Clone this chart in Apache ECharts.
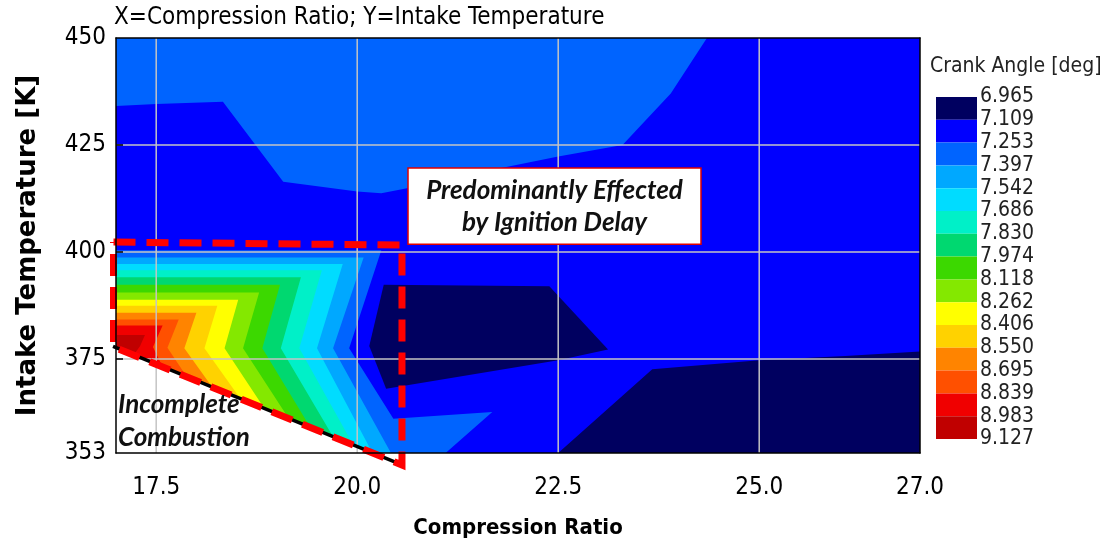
<!DOCTYPE html>
<html>
<head>
<meta charset="utf-8">
<script src="https://cdn.jsdelivr.net/npm/echarts@6/dist/echarts.min.js"></script>
<style>
  html, body { margin: 0; padding: 0; background: #ffffff; }
  #chart { width: 1108px; height: 550px; }
</style>
</head>
<body>
<div id="chart"></div>
<script>
// Contour levels of crank angle [deg] and the fill colour of each band between them
const levels = [6.965, 7.109, 7.253, 7.397, 7.542, 7.686, 7.830, 7.974, 8.118, 8.262, 8.406, 8.550, 8.695, 8.839, 8.983, 9.127];
const bandColors = ['#000060', '#0000ff', '#0064ff', '#00a8ff', '#00dcff', '#00f0c8', '#00d870', '#3cd800',
                    '#84e800', '#ffff00', '#ffd200', '#ff8400', '#ff5000', '#f00000', '#c00000'];

// Axis ticks (compression ratio, intake temperature [K])
const xTicks = [17.5, 20.0, 22.5, 25.0, 27.0];
const yTicks = [353, 375, 400, 425, 450];
const xGridLines = [17.5, 20.0, 22.5, 25.0];
const yGridLines = [375, 400, 425];

// Filled contour regions, vertices as [compression ratio, temperature]
const plotArea   = [[17, 353], [27, 353], [27, 450], [17, 450]];
const upperBand  = [[17, 450], [24.35, 450], [23.9, 437], [23.3, 425], [22.5, 422.3], [21.5, 418.5], [20.7, 415.2],
                    [20.3, 413.7], [20.0, 414.1], [19.08, 416.4], [18.33, 435.1], [17.5, 434.6], [17, 434.1]];
const midNavy    = [[20.33, 392.3], [22.39, 392.0], [23.12, 377.2], [22.5, 374.7], [20.36, 368.0], [20.15, 378.0]];
const lowNavy    = [[22.5, 353], [23.67, 372.6], [25.0, 374.7], [26.07, 375.7], [27, 376.7], [27, 353]];

// Nested bands of the low-CR / low-temperature wedge (band 2 .. band 14)
const wedgeTopT     = [400.4, 398.7, 397.2, 395.7, 394.1, 392.3, 390.5, 388.8, 387.4, 385.8, 384.2, 382.8, 380.6];
const wedgeCornerX  = [20.30, 20.08, 19.82, 19.56, 19.30, 19.04, 18.78, 18.52, 18.26, 18.00, 17.78, 17.58, 17.36];
const wedgeVertexX  = [19.90, 19.70, 19.50, 19.28, 19.05, 18.82, 18.58, 18.35, 18.10, 17.85, 17.64, 17.46, 17.30];
const wedgeVertexT  = [377.5, 377.5, 377.5, 377.5, 377.5, 377.5, 377.5, 377.5, 377.5, 377.5, 377.6, 377.8, 378.0];
const wedgeLowerArm = [
  [[20.45, 361.0], [21.68, 362.6], [21.10, 353.0]],
  [[20.42, 353.0]],
  [[20.19, 353.0]],
  [[19.95, 354.9]],
  [[19.70, 356.8]],
  [[19.42, 358.9]],
  [[19.15, 361.0]],
  [[18.85, 363.3]],
  [[18.55, 365.6]],
  [[18.20, 368.3]],
  [[17.88, 370.8]],
  [[17.58, 373.1]],
  [[17.22, 375.9]]
];

// Region without complete combustion, and the annotation outlines
const noCombustion = [[17, 377.6], [20.19, 353], [17, 353]];
const limitLine    = [[16.963, 377.9], [20.557, 350.2]];
const focusBox     = [[16.969, 402.3], [20.557, 401.6], [20.557, 350.2], [16.969, 377.8], [16.969, 402.3]];
const noteBox      = [[20.632, 419.6], [24.276, 401.8]];
const noteAnchor   = [17.0, 360.4];

const regions = [
  { band: 1, pts: plotArea },
  { band: 2, pts: upperBand },
  { band: 0, pts: midNavy },
  { band: 0, pts: lowNavy }
];
wedgeTopT.forEach((t, i) => {
  regions.push({
    band: i + 2,
    pts: [[17, t], [wedgeCornerX[i], t], [wedgeVertexX[i], wedgeVertexT[i]], ...wedgeLowerArm[i], [17, 353]]
  });
});
regions.push({ fill: '#ffffff', pts: noCombustion });

const NARROW = "'DejaVu Sans Condensed', 'Liberation Sans Narrow', sans-serif";
const NOTE_FONT = "Lato, 'Open Sans', sans-serif";

const chart = echarts.init(document.getElementById('chart'), null, { renderer: 'canvas' });

const frameAxis = { show: true, lineStyle: { color: '#000000', width: 1.5 } };

chart.setOption({
  animation: false,
  backgroundColor: '#ffffff',
  title: [
    {
      text: 'X=Compression Ratio; Y=Intake Temperature',
      left: 114, top: 6, padding: 0,
      textStyle: { fontFamily: NARROW, fontSize: 24, fontWeight: 'normal', color: '#000000' }
    },
    {
      text: 'Crank Angle [deg]',
      left: 930, top: 56, padding: 0,
      textStyle: { fontFamily: NARROW, fontSize: 21, fontWeight: 'normal', color: '#222222' }
    }
  ],
  grid: [
    { left: 116, right: 188, top: 38, bottom: 97 },
    { left: 936, top: 97, width: 41, height: 342 }
  ],
  xAxis: [
    {
      gridIndex: 0, type: 'value', min: 17, max: 27, position: 'bottom', z: 10,
      axisLine: frameAxis,
      axisTick: { show: false },
      splitLine: { show: false },
      axisLabel: {
        customValues: xTicks, margin: 23,
        formatter: v => v.toFixed(1),
        fontFamily: NARROW, fontSize: 24, color: '#000000'
      },
      name: 'Compression Ratio', nameLocation: 'middle', nameGap: 64,
      nameTextStyle: { fontFamily: NARROW, fontSize: 22, fontWeight: 'bold', color: '#000000' }
    },
    {
      gridIndex: 0, type: 'value', min: 17, max: 27, position: 'top', z: 10,
      axisLine: frameAxis, axisTick: { show: false }, axisLabel: { show: false }, splitLine: { show: false }
    },
    {
      gridIndex: 1, type: 'value', min: 0, max: 1, show: false
    }
  ],
  yAxis: [
    {
      gridIndex: 0, type: 'value', min: 353, max: 450, position: 'left', z: 10,
      axisLine: frameAxis,
      axisTick: { show: true, inside: true, length: 7, customValues: yGridLines, lineStyle: { color: '#000000', width: 1.5 } },
      splitLine: { show: false },
      axisLabel: {
        customValues: yTicks, margin: 10,
        fontFamily: NARROW, fontSize: 24, color: '#000000'
      },
      name: 'Intake Temperature [K]', nameLocation: 'middle', nameGap: 75,
      nameTextStyle: { fontFamily: "'DejaVu Sans', sans-serif", fontSize: 26, fontWeight: 'bold', color: '#000000' }
    },
    {
      gridIndex: 0, type: 'value', min: 353, max: 450, position: 'right', z: 10,
      axisLine: frameAxis, axisTick: { show: false }, axisLabel: { show: false }, splitLine: { show: false }
    },
    {
      gridIndex: 1, type: 'value', min: 0, max: 15, interval: 1, inverse: true, position: 'right',
      axisLine: { show: false }, axisTick: { show: false }, splitLine: { show: false },
      axisLabel: {
        margin: 3, showMinLabel: true, showMaxLabel: true, hideOverlap: false,
        formatter: v => levels[v].toFixed(3),
        fontFamily: NARROW, fontSize: 21, color: '#222222'
      }
    }
  ],
  series: [
    {
      // filled contour bands
      type: 'custom', name: 'Crank Angle', xAxisIndex: 0, yAxisIndex: 0, z: 2, clip: true,
      data: regions.map(r => r.pts[0]),
      renderItem: (params, api) => {
        const r = regions[params.dataIndex];
        return {
          type: 'polygon',
          shape: { points: r.pts.map(p => api.coord(p)) },
          style: { fill: r.fill || bandColors[r.band], stroke: null }
        };
      }
    },
    {
      // grid lines drawn over the contour fill
      type: 'custom', name: 'grid', xAxisIndex: 0, yAxisIndex: 0, z: 3, silent: true,
      data: xGridLines.map(v => [v, 353]).concat(yGridLines.map(v => [17, v])),
      renderItem: (params, api) => {
        const i = params.dataIndex;
        let a, b;
        if (i < xGridLines.length) {
          a = api.coord([xGridLines[i], 353]); b = api.coord([xGridLines[i], 450]);
        } else {
          const t = yGridLines[i - xGridLines.length];
          a = api.coord([17, t]); b = api.coord([27, t]);
        }
        return {
          type: 'line',
          shape: { x1: a[0], y1: a[1], x2: b[0], y2: b[1] },
          style: { stroke: '#c4c4c4', lineWidth: 1.5 }
        };
      }
    },
    {
      // annotations: combustion limit and the ignition-delay note
      type: 'custom', name: 'notes', xAxisIndex: 0, yAxisIndex: 0, z: 5, clip: false, silent: true,
      data: [noteAnchor],
      renderItem: (params, api) => {
        const l0 = api.coord(limitLine[0]), l1 = api.coord(limitLine[1]);
        const box = focusBox.map(p => api.coord(p));
        const n0 = api.coord(noteBox[0]), n1 = api.coord(noteBox[1]);
        const na = api.coord(noteAnchor);
        return {
          type: 'group',
          children: [
            {
              type: 'line',
              shape: { x1: l0[0], y1: l0[1], x2: l1[0], y2: l1[1] },
              style: { stroke: '#000000', lineWidth: 3.5 }
            },
            {
              type: 'polyline',
              shape: { points: box },
              style: { stroke: '#ff0000', lineWidth: 7, lineDash: [22, 11], fill: null }
            },
            {
              type: 'rect',
              shape: { x: n0[0], y: n0[1], width: n1[0] - n0[0], height: n1[1] - n0[1] },
              style: { fill: '#ffffff', stroke: '#e00000', lineWidth: 1.5 }
            },
            {
              type: 'text',
              x: (n0[0] + n1[0]) / 2, y: (n0[1] + n1[1]) / 2,
              style: {
                text: 'Predominantly Effected\nby Ignition Delay',
                align: 'center', verticalAlign: 'middle', lineHeight: 32,
                fontFamily: NOTE_FONT, fontSize: 26, fontWeight: 'bold', fontStyle: 'italic', fill: '#111111'
              }
            },
            {
              type: 'text',
              x: na[0] + 2, y: na[1],
              style: {
                text: 'Incomplete\nCombustion',
                align: 'left', verticalAlign: 'middle', lineHeight: 33,
                fontFamily: NOTE_FONT, fontSize: 26, fontWeight: 'bold', fontStyle: 'italic', fill: '#111111'
              }
            }
          ]
        };
      }
    },
    {
      // colour scale
      type: 'custom', name: 'scale', xAxisIndex: 2, yAxisIndex: 2, silent: true,
      data: bandColors.map((c, i) => [0, i]),
      renderItem: (params, api) => {
        const i = params.dataIndex;
        const a = api.coord([0, i]), b = api.coord([1, i + 1]);
        return {
          type: 'rect',
          shape: { x: a[0], y: a[1], width: b[0] - a[0], height: b[1] - a[1] },
          style: { fill: bandColors[i], stroke: null }
        };
      }
    }
  ]
});
</script>
</body>
</html>
